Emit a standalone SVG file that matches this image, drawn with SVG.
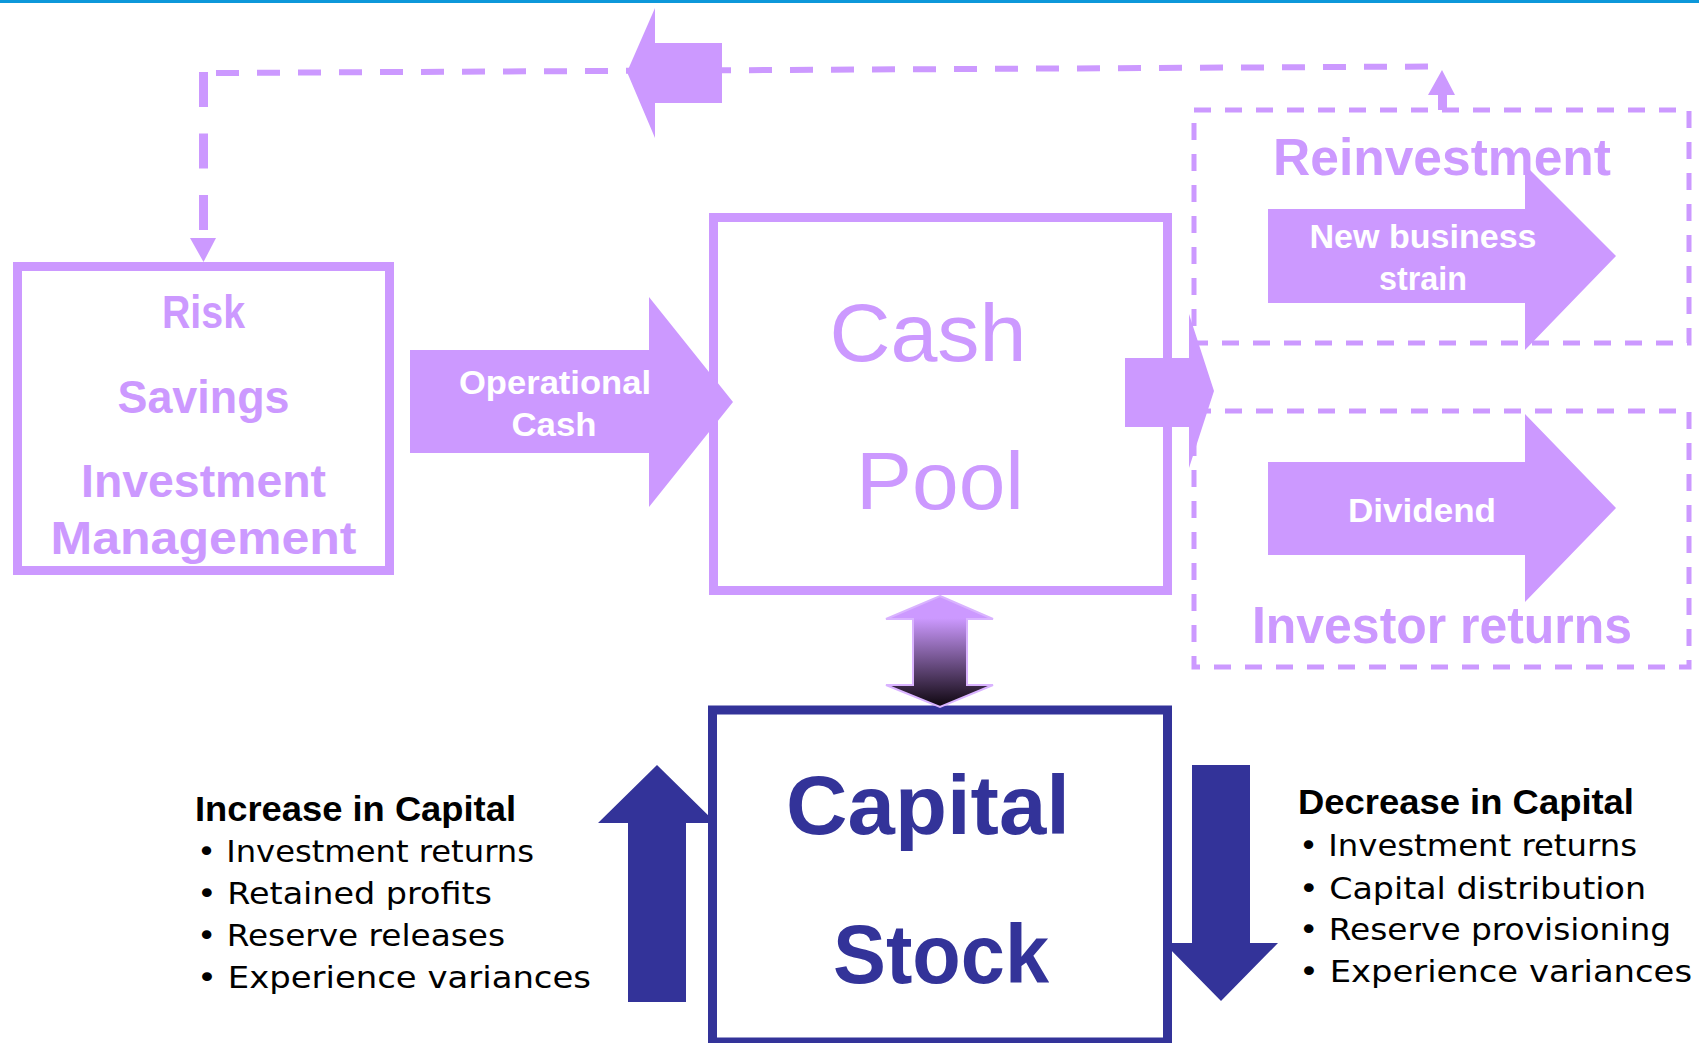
<svg xmlns="http://www.w3.org/2000/svg" width="1699" height="1043" viewBox="0 0 1699 1043">
  <defs>
    <linearGradient id="gradDouble" x1="0" y1="0" x2="0" y2="1">
      <stop offset="0.2" stop-color="#cc99ff"/>
      <stop offset="1" stop-color="#0d050d"/>
    </linearGradient>
    <style>
      .lav { fill: #cc99ff; }
      .navy { fill: #333399; }
      .box-lav { fill: #ffffff; stroke: #cc99ff; stroke-width: 9; }
      .box-navy { fill: #ffffff; stroke: #333399; stroke-width: 9; }
      .dash-box { fill: none; stroke: #cc99ff; stroke-width: 5; stroke-dasharray: 17 14; }
      .lbl { font-family: "Liberation Sans", Arial, sans-serif; font-weight: bold; fill: #cc99ff; text-anchor: middle; }
      .wlbl { font-family: "Liberation Sans", Arial, sans-serif; font-weight: bold; fill: #ffffff; text-anchor: middle; font-size: 34px; }
      .big { font-family: "Liberation Sans", Arial, sans-serif; text-anchor: middle; }
      .head { font-family: "Liberation Sans", Arial, sans-serif; font-weight: bold; fill: #000000; font-size: 35px; }
      .bul { font-family: "DejaVu Sans", "Liberation Sans", sans-serif; fill: #000000; font-size: 30px; }
    </style>
  </defs>

  <rect x="0" y="0" width="1699" height="3" fill="#0d98da"/>

  <!-- Dashed outline boxes -->
  <g id="node-reinvestment">
    <rect class="dash-box" x="1194" y="110" width="495" height="233"/>
    <text class="lbl" x="1442" y="175" font-size="52" textLength="338" lengthAdjust="spacingAndGlyphs">Reinvestment</text>
  </g>
  <g id="node-investor-returns">
    <rect class="dash-box" x="1194" y="411" width="495" height="256"/>
    <text class="lbl" x="1442" y="643" font-size="52" textLength="380" lengthAdjust="spacingAndGlyphs">Investor returns</text>
  </g>

  <!-- Risk / Savings / Investment Management -->
  <g id="node-risk">
    <rect class="box-lav" x="17.5" y="266.5" width="372" height="304"/>
    <text class="lbl" x="203.5" y="328" font-size="46" textLength="83" lengthAdjust="spacingAndGlyphs">Risk</text>
    <text class="lbl" x="203.5" y="413" font-size="46" textLength="172" lengthAdjust="spacingAndGlyphs">Savings</text>
    <text class="lbl" x="203.5" y="497" font-size="46" textLength="245" lengthAdjust="spacingAndGlyphs">Investment</text>
    <text class="lbl" x="203.5" y="554" font-size="46" textLength="306" lengthAdjust="spacingAndGlyphs">Management</text>
  </g>

  <!-- Cash Pool -->
  <g id="node-cash-pool">
    <rect class="box-lav" x="713.5" y="217.5" width="454" height="373"/>
    <text class="big" x="928" y="361" font-size="82" fill="#cc99ff" textLength="197" lengthAdjust="spacingAndGlyphs">Cash</text>
    <text class="big" x="940" y="509" font-size="82" fill="#cc99ff" textLength="168" lengthAdjust="spacingAndGlyphs">Pool</text>
  </g>

  <!-- Capital Stock -->
  <g id="node-capital-stock">
    <rect class="box-navy" x="712.5" y="710" width="455" height="332"/>
    <text class="big" x="928" y="834" font-size="84" font-weight="bold" fill="#333399" textLength="284" lengthAdjust="spacingAndGlyphs">Capital</text>
    <text class="big" x="941" y="983" font-size="84" font-weight="bold" fill="#333399" textLength="216" lengthAdjust="spacingAndGlyphs">Stock</text>
  </g>

  <!-- Increase in Capital -->
  <g id="node-increase">
    <text class="head" x="195" y="821" textLength="321" lengthAdjust="spacingAndGlyphs">Increase in Capital</text>
    <text class="bul" x="197" y="862" textLength="337" lengthAdjust="spacingAndGlyphs">• Investment returns</text>
    <text class="bul" x="197" y="904" textLength="295" lengthAdjust="spacingAndGlyphs">• Retained profits</text>
    <text class="bul" x="197" y="946" textLength="308" lengthAdjust="spacingAndGlyphs">• Reserve releases</text>
    <text class="bul" x="197" y="988" textLength="394" lengthAdjust="spacingAndGlyphs">• Experience variances</text>
  </g>

  <!-- Decrease in Capital -->
  <g id="node-decrease">
    <text class="head" x="1298" y="814" textLength="336" lengthAdjust="spacingAndGlyphs">Decrease in Capital</text>
    <text class="bul" x="1299" y="856" textLength="338" lengthAdjust="spacingAndGlyphs">• Investment returns</text>
    <text class="bul" x="1299" y="899" textLength="347" lengthAdjust="spacingAndGlyphs">• Capital distribution</text>
    <text class="bul" x="1299" y="940" textLength="372" lengthAdjust="spacingAndGlyphs">• Reserve provisioning</text>
    <text class="bul" x="1299" y="982" textLength="393" lengthAdjust="spacingAndGlyphs">• Experience variances</text>
  </g>

  <!-- Connectors -->
  <g id="connectors">
    <!-- feedback loop: reinvestment back to risk box -->
    <line x1="216" y1="73" x2="1433" y2="66.5" stroke="#cc99ff" stroke-width="6" stroke-dasharray="23 18"/>
    <line x1="203.5" y1="72" x2="203.5" y2="238" stroke="#cc99ff" stroke-width="9" stroke-dasharray="35 26.5"/>
    <polygon class="lav" points="190,238 216,238 203.5,262"/>
    <polygon class="lav" points="722,43 655,43 655,8 627,72 655,138 655,103 722,103"/>
    <polygon class="lav" points="1442,70 1455,95 1447,95 1447,110 1438,110 1438,95 1428,95"/>

    <!-- Operational Cash arrow -->
    <g id="arrow-operational-cash">
      <polygon class="lav" points="410,350 649,350 649,297 733,402 649,507 649,453 410,453"/>
      <text class="wlbl" x="555" y="394" textLength="192" lengthAdjust="spacingAndGlyphs">Operational</text>
      <text class="wlbl" x="554" y="436" textLength="85" lengthAdjust="spacingAndGlyphs">Cash</text>
    </g>

    <!-- Cash pool out arrow -->
    <polygon class="lav" points="1125,358 1189,358 1189,314 1214,391 1189,468 1189,427 1125,427"/>

    <!-- New business strain -->
    <g id="arrow-new-business">
      <polygon class="lav" points="1268,209 1525,209 1525,165 1616,256 1525,350 1525,303 1268,303"/>
      <text class="wlbl" x="1423" y="248" textLength="227" lengthAdjust="spacingAndGlyphs">New business</text>
      <text class="wlbl" x="1423" y="290" textLength="88" lengthAdjust="spacingAndGlyphs">strain</text>
    </g>

    <!-- Dividend -->
    <g id="arrow-dividend">
      <polygon class="lav" points="1268,462 1525,462 1525,414 1616,508 1525,602 1525,555 1268,555"/>
      <text class="wlbl" x="1422" y="522" textLength="148" lengthAdjust="spacingAndGlyphs">Dividend</text>
    </g>

    <!-- Double arrow cash pool <-> capital stock -->
    <polygon points="940,596 993,619 967,619 967,685 993,685 940,707 886,685 913,685 913,619 886,619" fill="url(#gradDouble)" stroke="#d9b3ff" stroke-width="2" stroke-linejoin="miter"/>

    <!-- Increase / decrease arrows -->
    <polygon class="navy" points="657,765 716,823 686,823 686,1002 628,1002 628,823 598,823"/>
    <polygon class="navy" points="1192,765 1250,765 1250,943 1278,943 1221,1001 1164,943 1192,943"/>
  </g>
</svg>
